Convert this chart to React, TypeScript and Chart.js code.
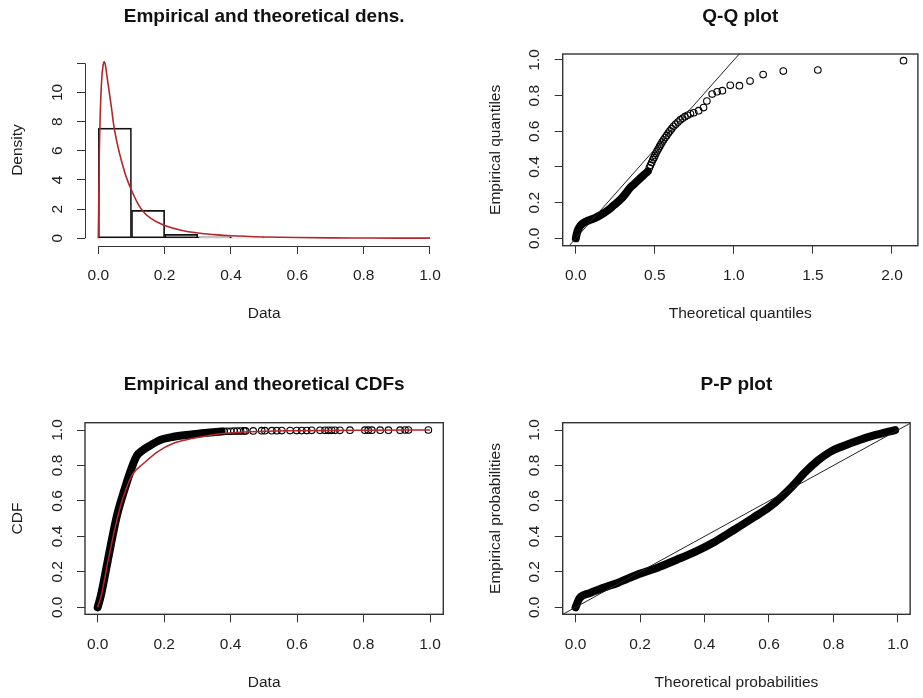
import React, { useEffect, useRef } from "react";
import { Chart, registerables } from "chart.js";
Chart.register(...registerables);

// ---------- Panel 1: density ----------
const histMids = [0.05, 0.15, 0.25, 0.35, 0.45];
const histDensity = [7.55, 1.92, 0.27, 0.1, 0.05];
const densX = [0, 0.001, 0.003, 0.006, 0.01, 0.014, 0.018, 0.022, 0.025, 0.03, 0.035, 0.04, 0.045, 0.05, 0.06, 0.07, 0.08, 0.09, 0.1, 0.12, 0.14, 0.16, 0.18, 0.2, 0.25, 0.3, 0.35, 0.4, 0.5, 0.6, 0.7, 0.8, 0.9, 1.0];
const densY = [0, 1.7, 5.7, 8.6, 10.8, 11.8, 12.1, 11.8, 11.3, 10.5, 9.7, 8.9, 8.0, 7.3, 6.2, 5.3, 4.5, 3.85, 3.3, 2.35, 1.72, 1.35, 1.08, 0.88, 0.55, 0.36, 0.25, 0.17, 0.09, 0.05, 0.03, 0.02, 0.013, 0.01];
const densXTicks = [0, 0.2, 0.4, 0.6, 0.8, 1.0];
const densXLabels = ["0.0", "0.2", "0.4", "0.6", "0.8", "1.0"];
const densYTicks = [0, 2, 4, 6, 8, 10, 12];
const densYLabels = ["0", "2", "4", "6", "8", "10", ""];

// ---------- Panel 2: Q-Q ----------
const qqBandTheo = [0, 0.006, 0.015, 0.03, 0.05, 0.08, 0.12, 0.16, 0.2, 0.24, 0.28, 0.31, 0.34, 0.37, 0.4, 0.43, 0.455];
const qqBandEmp = [0, 0.025, 0.05, 0.072, 0.087, 0.1, 0.113, 0.132, 0.155, 0.185, 0.215, 0.245, 0.28, 0.305, 0.33, 0.355, 0.375];
const qqTheo = [0.465, 0.472, 0.48, 0.487, 0.494, 0.5, 0.507, 0.514, 0.522, 0.53, 0.538, 0.546, 0.555, 0.565, 0.575, 0.585, 0.595, 0.606, 0.618, 0.632, 0.646, 0.66, 0.675, 0.69, 0.706, 0.725, 0.746, 0.777, 0.808, 0.829, 0.8625, 0.894, 0.927, 0.977, 1.035, 1.102, 1.185, 1.3125, 1.531, 2.073];
const qqEmp = [0.395, 0.41, 0.425, 0.44, 0.452, 0.465, 0.477, 0.49, 0.502, 0.515, 0.527, 0.54, 0.552, 0.565, 0.577, 0.59, 0.602, 0.615, 0.628, 0.64, 0.652, 0.664, 0.673, 0.682, 0.69, 0.698, 0.704, 0.716, 0.733, 0.77, 0.809, 0.822, 0.828, 0.858, 0.856, 0.882, 0.918, 0.938, 0.944, 0.996];
const qqXTicks = [0, 0.5, 1, 1.5, 2];
const qqXLabels = ["0.0", "0.5", "1.0", "1.5", "2.0"];
const unitTicks = [0, 0.2, 0.4, 0.6, 0.8, 1.0];
const unitLabels = ["0.0", "0.2", "0.4", "0.6", "0.8", "1.0"];
const refLine = [-1, 3];

// ---------- Panel 3: CDF ----------
const ecdfBandX = [0, 0.01, 0.03, 0.057, 0.08, 0.103, 0.118, 0.135, 0.16, 0.188, 0.228, 0.288, 0.348, 0.373];
const ecdfBandY = [0, 0.07, 0.26, 0.51, 0.66, 0.79, 0.855, 0.885, 0.915, 0.944, 0.962, 0.976, 0.987, 0.992];
const ecdfX = [0.38, 0.39, 0.4, 0.41, 0.42, 0.43, 0.44, 0.445, 0.468, 0.4935, 0.503, 0.524, 0.539, 0.554, 0.579, 0.599, 0.614, 0.629, 0.644, 0.669, 0.684, 0.694, 0.704, 0.714, 0.729, 0.759, 0.804, 0.814, 0.825, 0.85, 0.875, 0.91, 0.925, 0.935, 0.995];
const ecdfY = [0.992, 0.993, 0.993, 0.994, 0.994, 0.994, 0.995, 0.995, 0.995, 0.996, 0.996, 0.996, 0.996, 0.997, 0.997, 0.997, 0.997, 0.997, 0.998, 0.998, 0.998, 0.998, 0.998, 0.998, 0.998, 0.999, 0.999, 0.999, 0.999, 0.999, 0.999, 0.999, 1.0, 1.0, 1.0];
const cdfX = [0, 0.01, 0.03, 0.05, 0.07, 0.09, 0.107, 0.137, 0.18, 0.228, 0.288, 0.358, 0.458, 0.6, 0.8, 1.0];
const cdfY = [0, 0.06, 0.25, 0.43, 0.58, 0.69, 0.756, 0.81, 0.877, 0.925, 0.953, 0.976, 0.99, 0.996, 0.999, 1.0];

// ---------- Panel 4: P-P ----------
const ppTheo = [0, 0.012, 0.042, 0.082, 0.132, 0.197, 0.252, 0.312, 0.372, 0.432, 0.491, 0.551, 0.601, 0.636, 0.671, 0.711, 0.751, 0.791, 0.831, 0.881, 0.931, 0.991];
const ppEmp = [0, 0.05, 0.079, 0.107, 0.139, 0.188, 0.222, 0.267, 0.314, 0.37, 0.436, 0.505, 0.565, 0.618, 0.68, 0.76, 0.827, 0.878, 0.91, 0.944, 0.972, 1.0];

const FAMILY = '"Liberation Sans", Arial, sans-serif';
const TXT = "#1e1e1e";
const AX = "#333333";
const RED = "#b3262a";
const FSIZE = 15.5;

const pts = (xs: number[], ys: number[]) => xs.map((x, i) => ({ x, y: ys[i] }));

function measureWidest(labels: string[]) {
  const c = document.createElement("canvas").getContext("2d")!;
  c.font = `${FSIZE}px ${FAMILY}`;
  return Math.max(...labels.map((l) => c.measureText(l).width));
}

type Spec = {
  left: number; top: number; W: number; H: number;
  area: { l: number; t: number; r: number; b: number };
  title: string; xTitle: string; yTitle: string;
  xMin: number; xMax: number; yMin: number; yMax: number;
  xTicks: number[]; xLabels: string[]; yTicks: number[]; yLabels: string[];
  box: boolean; datasets: any[];
};

const framePlugin = {
  id: "rframe",
  afterDraw(chart: any, _args: any, opts: any) {
    const { ctx, chartArea } = chart;
    const sx = chart.scales.x, sy = chart.scales.y;
    ctx.save();
    ctx.strokeStyle = AX;
    ctx.lineWidth = 1;
    if (opts.box) {
      ctx.lineWidth = 1.4;
      ctx.strokeRect(chartArea.left, chartArea.top, chartArea.right - chartArea.left, chartArea.bottom - chartArea.top);
    } else {
      const xt = opts.xTicks, yt = opts.yTicks;
      ctx.beginPath();
      ctx.moveTo(sx.getPixelForValue(xt[0]), Math.round(chartArea.bottom) + 0.5);
      ctx.lineTo(sx.getPixelForValue(xt[xt.length - 1]), Math.round(chartArea.bottom) + 0.5);
      ctx.moveTo(Math.round(chartArea.left) + 0.5, sy.getPixelForValue(yt[0]));
      ctx.lineTo(Math.round(chartArea.left) + 0.5, sy.getPixelForValue(yt[yt.length - 1]));
      ctx.stroke();
    }
    ctx.fillStyle = "#111";
    ctx.font = `bold 19px ${FAMILY}`;
    ctx.textAlign = "center";
    ctx.textBaseline = "middle";
    ctx.fillText(opts.title, (chartArea.left + chartArea.right) / 2, chartArea.top - 37.5);
    ctx.restore();
  },
};

function makeConfig(s: Spec): any {
  const tickFont = { family: FAMILY, size: FSIZE, lineHeight: 1 };
  const yPad = 27.6 - 8 - measureWidest(s.yLabels) / 2;
  const grid = { display: true, drawOnChartArea: false, drawTicks: true, tickLength: 8, color: AX, lineWidth: 1, offset: false };
  return {
    type: "line",
    data: { datasets: s.datasets },
    options: {
      responsive: false,
      animation: false,
      events: [],
      layout: { padding: { left: 0, top: s.area.t, right: s.W - s.area.r, bottom: 0 } },
      plugins: {
        legend: { display: false },
        title: { display: false },
        tooltip: { enabled: false },
        rframe: { box: s.box, title: s.title, xTicks: s.xTicks, yTicks: s.yTicks },
      },
      scales: {
        x: {
          type: "linear", position: "bottom", min: s.xMin, max: s.xMax, offset: false,
          border: { display: false },
          grid,
          ticks: {
            autoSkip: false, minRotation: 0, maxRotation: 0, padding: 14.25, font: tickFont, color: TXT,
            callback: (_v: any, i: number) => s.xLabels[i] ?? "",
          },
          afterBuildTicks: (sc: any) => { sc.ticks = s.xTicks.map((v) => ({ value: v })); },
          afterFit: (sc: any) => { sc.height = s.H - s.area.b; },
          title: {
            display: true, text: s.xTitle, font: tickFont, color: TXT,
            padding: { top: 0, bottom: s.H - (s.area.b + 68) - FSIZE / 2 },
          },
        },
        y: {
          type: "linear", position: "left", min: s.yMin, max: s.yMax,
          border: { display: false },
          grid,
          ticks: {
            autoSkip: false, minRotation: 90, maxRotation: 90, crossAlign: "center", padding: yPad, font: tickFont, color: TXT,
            callback: (_v: any, i: number) => s.yLabels[i] ?? "",
          },
          afterBuildTicks: (sc: any) => { sc.ticks = s.yTicks.map((v) => ({ value: v })); },
          afterFit: (sc: any) => { sc.width = s.area.l; },
          title: {
            display: true, text: s.yTitle, font: tickFont, color: TXT,
            padding: { top: s.area.l - 67 - FSIZE / 2, bottom: 0 },
          },
        },
      },
    },
    plugins: [framePlugin],
  };
}

const bandStyle = {
  type: "line", borderColor: "#000", borderWidth: 8, pointRadius: 0,
  borderCapStyle: "round", borderJoinStyle: "round", cubicInterpolationMode: "monotone",
};
const circleStyle = {
  type: "scatter", showLine: false, pointRadius: 3.3, pointBorderWidth: 1.1,
  pointBackgroundColor: "rgba(0,0,0,0)", pointBorderColor: "#000", pointStyle: "circle",
};

const specs: Spec[] = [
  {
    left: 0, top: 0, W: 461, H: 349,
    area: { l: 85, t: 54, r: 443.3, b: 246 },
    title: "Empirical and theoretical dens.", xTitle: "Data", yTitle: "Density",
    xMin: -0.0401, xMax: 1.0401, yMin: -0.528, yMax: 12.638,
    xTicks: densXTicks, xLabels: densXLabels, yTicks: densYTicks, yLabels: densYLabels,
    box: false,
    datasets: [
      { type: "line", data: pts(densX, densY), borderColor: RED, borderWidth: 1.6, pointRadius: 0, cubicInterpolationMode: "monotone", order: 0 },
      {
        type: "bar", data: pts(histMids, histDensity), backgroundColor: "rgba(0,0,0,0)", borderColor: "#111",
        borderWidth: 1, borderSkipped: false, barPercentage: 1, categoryPercentage: 1, order: 1,
      },
    ],
  },
  {
    left: 461, top: 0, W: 462, H: 349,
    area: { l: 101.7, t: 54, r: 461.3, b: 245.7 },
    title: "Q-Q plot", xTitle: "Theoretical quantiles", yTitle: "Empirical quantiles",
    xMin: -0.083, xMax: 2.164, yMin: -0.0415, yMax: 1.0336,
    xTicks: qqXTicks, xLabels: qqXLabels, yTicks: unitTicks, yLabels: unitLabels,
    box: true,
    datasets: [
      { type: "line", data: pts(refLine, refLine), borderColor: "#222", borderWidth: 1, pointRadius: 0, order: 0 },
      { ...bandStyle, data: pts(qqBandTheo, qqBandEmp), order: 1 },
      { ...circleStyle, data: pts(qqTheo, qqEmp), order: 2 },
    ],
  },
  {
    left: 0, top: 349, W: 461, H: 349,
    area: { l: 85, t: 73.7, r: 443.3, b: 265.3 },
    title: "Empirical and theoretical CDFs", xTitle: "Data", yTitle: "CDF",
    xMin: -0.0382, xMax: 1.04, yMin: -0.0395, yMax: 1.0412,
    xTicks: unitTicks, xLabels: unitLabels, yTicks: unitTicks, yLabels: unitLabels,
    box: true,
    datasets: [
      { type: "line", data: pts(cdfX, cdfY), borderColor: RED, borderWidth: 1.5, pointRadius: 0, cubicInterpolationMode: "monotone", order: 0 },
      { ...circleStyle, data: pts(ecdfX, ecdfY), order: 1 },
      { ...bandStyle, data: pts(ecdfBandX, ecdfBandY), order: 2 },
    ],
  },
  {
    left: 461, top: 349, W: 462, H: 349,
    area: { l: 101.7, t: 73.7, r: 461.3, b: 265.3 },
    title: "P-P plot", xTitle: "Theoretical probabilities", yTitle: "Empirical probabilities",
    xMin: -0.0399, xMax: 1.0378, yMin: -0.0395, yMax: 1.0412,
    xTicks: unitTicks, xLabels: unitLabels, yTicks: unitTicks, yLabels: unitLabels,
    box: true,
    datasets: [
      { type: "line", data: pts(refLine, refLine), borderColor: "#222", borderWidth: 1, pointRadius: 0, order: 0 },
      { ...bandStyle, data: pts(ppTheo, ppEmp), order: 1 },
    ],
  },
];

function Panel({ spec }: { spec: Spec }) {
  const ref = useRef<HTMLCanvasElement>(null);
  useEffect(() => {
    if (!ref.current) return;
    const chart = new Chart(ref.current, makeConfig(spec));
    return () => chart.destroy();
  }, [spec]);
  return (
    <canvas
      ref={ref}
      width={spec.W}
      height={spec.H}
      style={{ position: "absolute", left: spec.left, top: spec.top, width: spec.W, height: spec.H }}
    />
  );
}

export default function App() {
  return (
    <div style={{ position: "absolute", left: 0, top: 0, width: 923, height: 698, background: "#fff", overflow: "hidden" }}>
      {specs.map((s, i) => (
        <Panel key={i} spec={s} />
      ))}
    </div>
  );
}
